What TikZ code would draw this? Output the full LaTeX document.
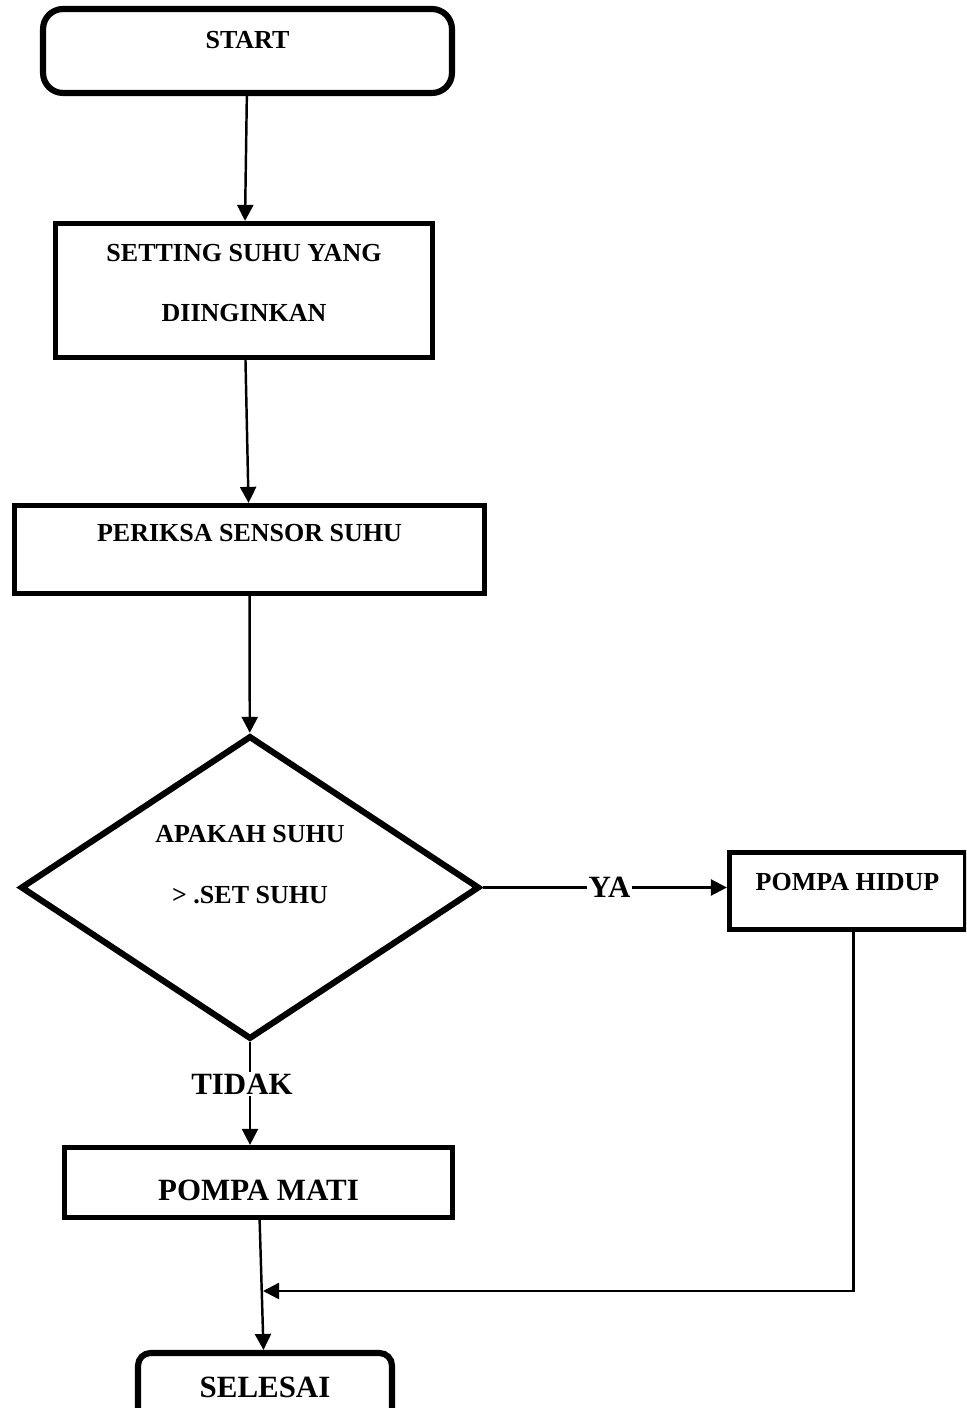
\documentclass[tikz,border=0pt]{standalone}
\usepackage{fontspec}
\setmainfont{Liberation Serif}
\usetikzlibrary{shapes.geometric,arrows.meta}

\begin{document}
\begin{tikzpicture}[x=0.02cm, y=-0.02cm,
    huruf/.style={font=\fontsize{14.8}{18}\selectfont\bfseries},
    hurufbesar/.style={font=\fontsize{17.6}{21}\selectfont\bfseries},
    kotak/.style={draw, rectangle, line width=3pt, align=center, inner sep=0pt},
    terminal/.style={draw, rectangle, rounded corners=0.4cm, line width=3.5pt, align=center, inner sep=0pt},
    ketupat/.style={draw, diamond, aspect=1.5, line width=3.5pt, align=center, inner sep=0pt},
    panah/.style={line width=1.4pt, -{Triangle[length=0.32cm, width=0.32cm]}},
    garis/.style={line width=1.4pt}]

    % Batas gambar
    \path[use as bounding box, clip] (0,0) rectangle (966,1408);

    % Mulai
    \node[terminal, huruf, minimum width=8.18cm, minimum height=1.68cm,
          text height=0.36cm, text depth=0.47cm] (start) at (247.5,51) {START};

    % Setting suhu
    \node[kotak, huruf, minimum width=7.54cm, minimum height=2.68cm,
          text height=1.56cm, text depth=0.31cm] (setting) at (244,290.5)
          {SETTING SUHU YANG\\[0.57cm]DIINGINKAN};

    % Periksa sensor
    \node[kotak, huruf, minimum width=9.4cm, minimum height=1.76cm,
          text height=0.36cm, text depth=0.67cm] (periksa) at (249.5,549.5) {PERIKSA SENSOR SUHU};

    % Keputusan
    \node[ketupat, huruf, minimum width=9.18cm, minimum height=6.07cm,
          text height=1.56cm, text depth=0.94cm] (cek) at (250,887.5)
          {APAKAH SUHU\\[0.57cm]> .SET SUHU};

    % Pompa hidup / mati
    \node[kotak, huruf, minimum width=4.72cm, minimum height=1.54cm,
          text height=0.36cm, text depth=0.40cm] (hidup) at (847.5,891) {POMPA HIDUP};
    \node[kotak, hurufbesar, minimum width=7.76cm, minimum height=1.4cm,
          text height=0.72cm, text depth=0cm] (mati) at (258.5,1182.5) {POMPA MATI};

    % Selesai
    \node[terminal, hurufbesar, rounded corners=0.25cm, minimum width=5.08cm, minimum height=1.88cm,
          text height=0.42cm, text depth=0.54cm] (selesai) at (265,1400) {SELESAI};

    % Garis alir
    \draw[panah] (start) -- (setting);
    \draw[panah] (setting) -- (periksa);
    \draw[panah] (periksa) -- (cek);
    \draw[panah] (cek.east) -- node[hurufbesar, fill=white, inner sep=1pt, pos=0.52] (ya) {YA}
        (cek.east -| hidup.west);
    \draw[panah] (cek.south) -- node[hurufbesar, fill=white, inner sep=1pt, pos=0.41, xshift=-0.16cm] (tidak) {TIDAK}
        (cek.south |- mati.north);
    \draw[panah] (mati) -- (selesai);

    % Kembali dari pompa hidup
    \coordinate (gabung) at (263,1291);
    \draw[panah] ([xshift=0.12cm]hidup.south) |- (gabung);

\end{tikzpicture}
\end{document}
